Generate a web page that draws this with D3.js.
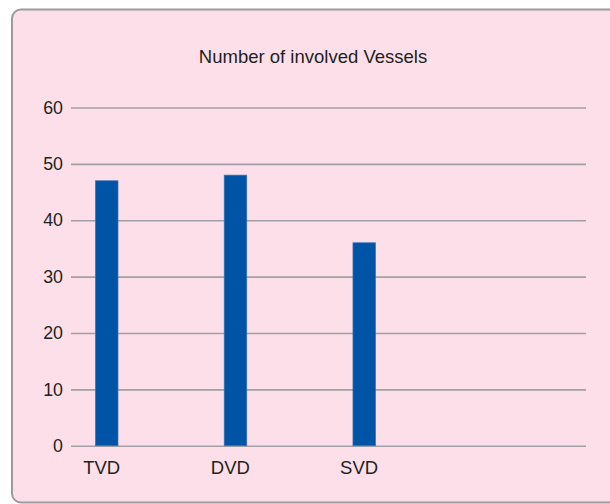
<!DOCTYPE html>
<html lang="en">
<head>
    <meta charset="utf-8">
    <title>Number of involved Vessels</title>
    <script type="text/javascript" src="https://cdn.jsdelivr.net/npm/d3@7/dist/d3.min.js"></script>
    <style>
        body { margin: 0; background: #fff; }
        svg { display: block; }
    </style>
</head>
<body>
<script type="text/javascript">
    // chart data
    var categories = ["TVD", "DVD", "SVD", ""];
    var vessels = [47, 48, 36];
    var yTicks = [0, 10, 20, 30, 40, 50, 60];
    var title = "Number of involved Vessels";

    var w = 610;
    var h = 504;
    var font = "'Liberation Sans', Arial, sans-serif";

    var svg = d3.select("body")
        .append("svg")
        .attr("width", w)
        .attr("height", h);

    // pink panel with rounded grey border
    svg.append("rect")
        .attr("x", 12)
        .attr("y", 9.5)
        .attr("width", 606)
        .attr("height", 493)
        .attr("rx", 9)
        .attr("fill", "#fcdfe9")
        .attr("stroke", "#9c9a9e")
        .attr("stroke-width", 2);

    var xScale = d3.scaleBand()
        .domain(categories)
        .range([71, 586]);

    var yScale = d3.scaleLinear()
        .domain([0, 60])
        .range([445.7, 107.5]);

    // gridlines + tick labels
    var yAxis = d3.axisLeft(yScale)
        .tickValues(yTicks)
        .tickSize(-(586 - 71))
        .tickPadding(8);

    var gy = svg.append("g")
        .attr("transform", "translate(71,0)")
        .call(yAxis);
    gy.select(".domain").remove();
    gy.selectAll(".tick line")
        .attr("stroke", "#a29fa6")
        .attr("stroke-width", 1.6);
    gy.selectAll(".tick text")
        .attr("font-family", font)
        .attr("font-size", "17.8px")
        .attr("fill", "#231f20");

    // bars
    svg.selectAll("rect.bar")
        .data(vessels)
        .enter()
        .append("rect")
        .attr("class", "bar")
        .attr("x", function(d, i) {
            return xScale(categories[i]) + xScale.bandwidth() * 0.19;
        })
        .attr("y", function(d) { return yScale(d); })
        .attr("width", xScale.bandwidth() * 0.175)
        .attr("height", function(d) { return yScale(0) - yScale(d); })
        .attr("fill", "#0054a6")
        .attr("stroke", "#3572bd")
        .attr("stroke-width", 0.7);

    // category labels
    svg.selectAll("text.cat")
        .data(categories.filter(function(c) { return c !== ""; }))
        .enter()
        .append("text")
        .attr("class", "cat")
        .text(function(d) { return d; })
        .attr("x", function(d) {
            return xScale(d) + xScale.bandwidth() * 0.238;
        })
        .attr("y", 474)
        .attr("text-anchor", "middle")
        .attr("font-family", font)
        .attr("font-size", "18.5px")
        .attr("fill", "#231f20");

    // title
    svg.append("text")
        .text(title)
        .attr("x", 313)
        .attr("y", 63.3)
        .attr("text-anchor", "middle")
        .attr("font-family", font)
        .attr("font-size", "18.5px")
        .attr("fill", "#231f20");
</script>
</body>
</html>
